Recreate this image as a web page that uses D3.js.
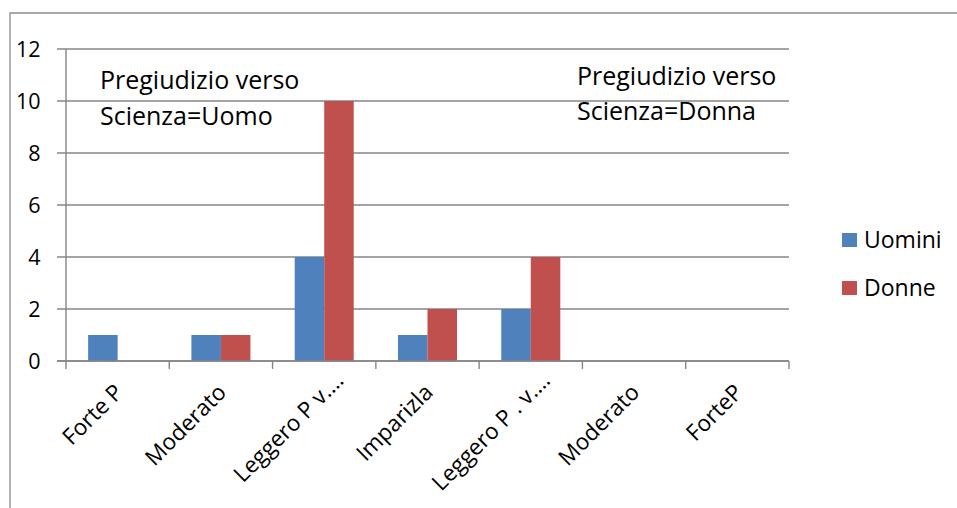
<!DOCTYPE html>
<html><head><meta charset="utf-8">
<script src="https://cdn.jsdelivr.net/npm/d3@7"></script>
<style>body{margin:0;background:#fff}svg{display:block;font-family:"Open Sans",sans-serif}</style>
</head><body><svg id="c" width="957" height="508"></svg>
<script>
const categories = ["Forte P","Moderato","Leggero P v\u2026.","Imparizla","Leggero P . v\u2026.","Moderato","ForteP"];
const seriesNames = ["Uomini","Donne"];
const uomini = [1,1,4,1,2,0,0];
const donne = [0,1,10,2,4,0,0];
const yTicks = [0,2,4,6,8,10,12];
const notes = [["Pregiudizio verso","Scienza=Uomo"],["Pregiudizio verso","Scienza=Donna"]];
const colors = ["#4F81BD","#C0504D"];

const svg = d3.select("#c");
const L=66, R=789, T=49, B=361;
const grid="#868686";
svg.append("path").attr("d","M10,508 V13 H957").attr("fill","none").attr("stroke","#8c8c8c").attr("stroke-width",1.3);

const x = d3.scaleBand().domain(d3.range(categories.length)).range([L,R]).paddingInner(0).paddingOuter(0);
const y = d3.scaleLinear().domain([0,12]).range([B,T]);
const xs = d3.scaleBand().domain([0,1]).range([0,x.bandwidth()]).paddingInner(0).paddingOuter(0.75);

svg.append("g").selectAll("line").data(yTicks).join("line")
  .attr("x1",L-9).attr("x2",R).attr("y1",d=>y(d)).attr("y2",d=>y(d))
  .attr("stroke",grid).attr("stroke-width",1.4);
svg.append("g").selectAll("text").data(yTicks).join("text")
  .attr("x",40.5).attr("y",d=>y(d)).attr("dy","0.36em").attr("text-anchor","end")
  .attr("font-size",21.5).attr("fill","#000").text(d=>d);
svg.append("line").attr("x1",L).attr("x2",L).attr("y1",T).attr("y2",B).attr("stroke",grid).attr("stroke-width",1.4);

const data = categories.map((c,i)=>({i, vals:[uomini[i],donne[i]]}));
const g = svg.append("g");
data.forEach(d=>{
  d.vals.forEach((v,s)=>{
    if(v<=0) return;
    g.append("rect").attr("x",x(d.i)+xs(s)).attr("width",xs.bandwidth())
      .attr("y",y(v)).attr("height",y(0)-y(v)).attr("fill",colors[s]);
  });
});

svg.append("line").attr("x1",L-9).attr("x2",R).attr("y1",B).attr("y2",B).attr("stroke",grid).attr("stroke-width",1.4);
svg.append("g").selectAll("line").data(d3.range(categories.length+1)).join("line")
  .attr("x1",i=>L+i*x.step()).attr("x2",i=>L+i*x.step()).attr("y1",B).attr("y2",B+8)
  .attr("stroke",grid).attr("stroke-width",1.4);

svg.append("g").selectAll("text").data(categories).join("text")
  .attr("transform",(d,i)=>{
    const cx = x(i)+x.bandwidth()/2;
    const tr = d.endsWith("\u2026.") ? [cx+15,376] : [cx+1,388];
    return `translate(${tr[0]},${tr[1]}) rotate(-45)`;
  })
  .attr("text-anchor","end").attr("dy","0.36em").attr("font-size",22.5).attr("fill","#000").text(d=>d);

const notePos = [[100,89,125],[577,85,120]];
notes.forEach((n,k)=>{
  n.forEach((line,j)=>{
    svg.append("text").attr("x",notePos[k][0]).attr("y",notePos[k][1+j])
      .attr("font-size",25).attr("fill","#000").text(line);
  });
});

const lg = svg.append("g");
seriesNames.forEach((s,k)=>{
  const yy = 240 + k*48;
  lg.append("rect").attr("x",842).attr("y",yy-7).attr("width",15).attr("height",14).attr("fill",colors[k]);
  lg.append("text").attr("x",864).attr("y",yy).attr("dy","0.36em").attr("font-size",23).attr("fill","#000").text(s);
});
</script></body></html>
